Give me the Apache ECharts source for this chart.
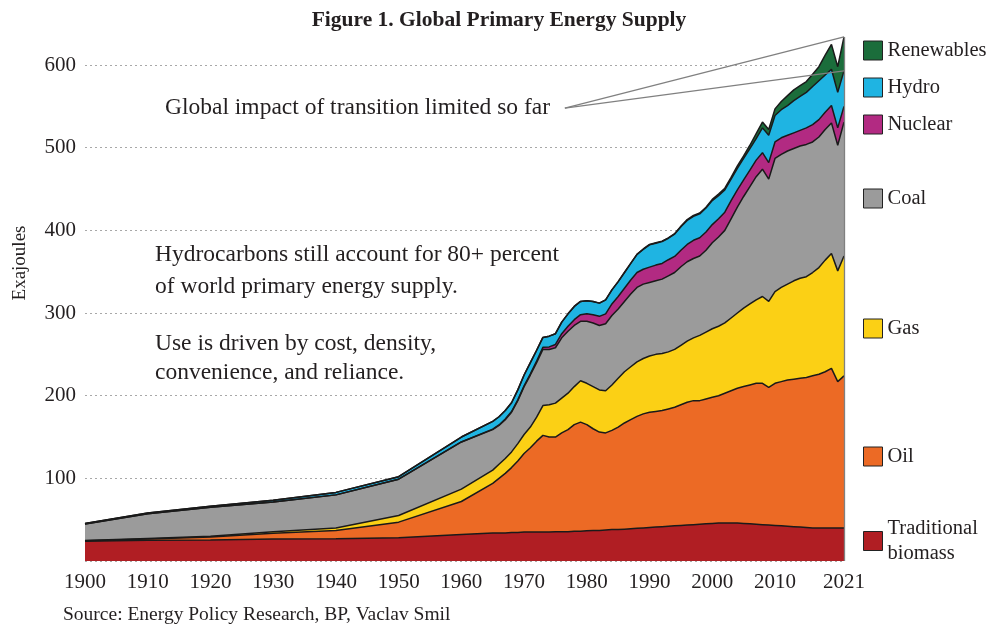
<!DOCTYPE html>
<html>
<head>
<meta charset="utf-8">
<script src="https://cdn.jsdelivr.net/npm/echarts@6/dist/echarts.min.js"></script>
<style>
  html, body { margin: 0; padding: 0; background: #fff; }
  #chart { width: 990px; height: 627px; }
</style>
</head>
<body>
<div id="chart"></div>
<script>
// years: decades up to 1960, then annual
var years = [1900, 1910, 1920, 1930, 1940, 1950, 1960,
  1965, 1966, 1967, 1968, 1969, 1970, 1971, 1972, 1973, 1974,
  1975, 1976, 1977, 1978, 1979, 1980, 1981, 1982, 1983, 1984,
  1985, 1986, 1987, 1988, 1989, 1990, 1991, 1992, 1993, 1994,
  1995, 1996, 1997, 1998, 1999, 2000, 2001, 2002, 2003, 2004,
  2005, 2006, 2007, 2008, 2009, 2010, 2011, 2012, 2013, 2014,
  2015, 2016, 2017, 2018, 2019, 2020, 2021];

// exajoules
var biomass = [24, 25, 25.5, 26.5, 27, 28, 32,
  34, 34, 34, 34.5, 34.5, 35, 35, 35, 35, 35,
  35.5, 35.5, 35.5, 36, 36, 36.5, 37, 37, 37.5, 38,
  38, 38.5, 39, 39.5, 40, 40.5, 41, 41.5, 42, 42.5,
  43, 43.5, 44, 44.5, 45, 45.5, 46, 46, 46, 46,
  45.5, 45, 44.5, 44, 43.5, 43, 42.5, 42, 41.5, 41,
  40.5, 40, 40, 40, 40, 40, 40];

var oil = [0.5, 1.5, 3.5, 7, 10, 19, 40,
  60, 66, 72, 78.5, 86.5, 95, 102, 110, 117, 115,
  114.5, 119.5, 123.5, 129, 132, 128.5, 123, 119, 117.5, 120,
  124, 128.5, 132, 135.5, 138, 139.5, 140, 140.5, 142, 143.5,
  146, 148.5, 150, 149.5, 151, 152.5, 154, 157, 160, 163,
  165.5, 168, 170.5, 171, 166.5, 172, 174.5, 177, 178.5, 180,
  181.5, 184, 186, 189, 193, 177, 184];

var gas = [0.3, 0.8, 1, 2, 3, 8, 15,
  16, 17, 18, 19, 21, 23, 25, 29, 36, 39,
  41, 42, 44, 46, 50, 50, 51, 51, 51, 55,
  59, 62, 64, 66, 67, 68, 69, 69, 69, 70,
  72, 74, 76, 79, 81, 83, 84, 85, 88, 91,
  95, 98, 101, 105, 104, 111, 114, 116, 119, 121,
  122, 125, 129, 135, 139, 134, 145];

var coal = [20, 30, 35, 36, 40, 44, 57,
  49, 47, 47, 48, 52, 58, 63, 66, 68, 67,
  67, 73, 75, 74, 72, 75, 77, 78, 81, 84,
  84, 85, 88, 90, 90, 89, 89, 90, 92, 93,
  95, 96, 96, 96, 99, 104, 108, 112, 120, 128,
  135, 142, 149, 154, 148, 161, 161, 161, 160, 160,
  160, 158, 158, 158, 158, 152, 162];

var nuclear = [0, 0, 0, 0, 0, 0, 0,
  0.5, 0.6, 0.7, 0.8, 1, 1, 1.5, 2, 2.5, 3,
  4, 5, 6, 7, 8, 9, 10, 11, 12, 14,
  15, 16, 17, 18, 18, 18.5, 19, 19, 19.5, 19.5,
  20, 21, 22, 22, 22, 22, 22, 22, 22, 21,
  20, 20, 20, 20, 20, 20, 20, 19, 19, 19,
  20, 21, 21, 21, 21, 21, 19];

var hydro = [0.5, 0.8, 1.3, 2, 3, 3, 6,
  9.5, 9.9, 10.3, 10.7, 12, 13, 13.5, 13, 12, 13,
  13, 14, 15, 16, 16, 16, 16, 16, 17, 17,
  18, 19, 20, 22, 24, 27, 26.5, 26.5, 26, 27,
  28.5, 29, 29, 29, 29, 29, 28, 27, 26, 26,
  26, 26, 26, 30, 33, 32, 34, 36, 39, 41,
  43, 46, 47, 45, 44, 43, 43];

var renewables = [0, 0, 0, 0, 0, 0, 0,
  0, 0, 0, 0, 0, 0, 0, 0, 0, 0,
  0, 0, 0, 0, 0, 0, 0, 0, 0, 0,
  0, 0, 0, 0, 0.5, 0.5, 0.5, 0.5, 0.5, 0.5,
  0.5, 1, 1, 1, 1, 1.5, 2, 2, 2, 3,
  3, 4, 6, 7, 7, 8, 10, 12, 13, 13,
  13, 15, 17, 24, 30, 31, 41];

var xLabels = [1900, 1910, 1920, 1930, 1940, 1950, 1960, 1970, 1980, 1990, 2000, 2010, 2021];

var serif = 'Liberation Serif';
var ink = '#231f20';

// bottom to top
var layers = [
  { name: 'Traditional biomass', values: biomass, color: '#b01e23' },
  { name: 'Oil', values: oil, color: '#ec6a25' },
  { name: 'Gas', values: gas, color: '#fbd015' },
  { name: 'Coal', values: coal, color: '#9b9b9b' },
  { name: 'Nuclear', values: nuclear, color: '#b22a82' },
  { name: 'Hydro', values: hydro, color: '#1fb4e2' },
  { name: 'Renewables', values: renewables, color: '#1b6d3b' }
];

// running totals (echarts stacks on x when both axes are value axes,
// so the layers are summed here and drawn top layer first)
var running = years.map(function () { return 0; });
layers.forEach(function (l) {
  l.cum = l.values.map(function (v, i) { running[i] += v; return running[i]; });
});
var last = years.length - 1;
var topAll = layers[6].cum[last];
var topHydro = layers[5].cum[last];

var series = layers.slice().reverse().map(function (l) {
  return {
    name: l.name,
    type: 'line',
    clip: false,
    symbol: 'none',
    data: years.map(function (y, i) { return [y, l.cum[i]]; }),
    lineStyle: { color: '#1a1a1a', width: 1.5 },
    itemStyle: { color: l.color },
    areaStyle: { color: l.color, opacity: 1 }
  };
});

// pointer lines from the note, plus the edge at 2021
series.push({
  name: 'pointer',
  type: 'line',
  clip: false,
  data: [],
  markLine: {
    silent: true,
    symbol: 'none',
    animation: false,
    label: { show: false },
    lineStyle: { color: '#808080', width: 1.3, type: 'solid' },
    data: [
      [{ coord: [1976.5, 548] }, { coord: [2021, topAll] }],
      [{ coord: [1976.5, 548] }, { coord: [2021, topHydro] }],
      [{ coord: [2021, 0] }, { coord: [2021, topAll] }]
    ]
  }
});

// legend spots down the right side
var legendSpots = [
  { name: 'Renewables', top: 38 },
  { name: 'Hydro', top: 75 },
  { name: 'Nuclear', top: 112 },
  { name: 'Coal', top: 186 },
  { name: 'Gas', top: 316 },
  { name: 'Oil', top: 444 },
  { name: 'Traditional biomass', top: 516 }
];
var legends = legendSpots.map(function (s) {
  var layer = layers.filter(function (l) { return l.name === s.name; })[0];
  return {
    left: 863,
    top: s.top,
    padding: 0,
    orient: 'vertical',
    icon: 'rect',
    itemWidth: 19,
    itemHeight: 19,
    selectedMode: false,
    data: [{ name: s.name, itemStyle: { color: layer.color, borderColor: '#222', borderWidth: 1 } }],
    formatter: function (n) { return n === 'Traditional biomass' ? 'Traditional\nbiomass' : n; },
    textStyle: { fontFamily: serif, fontSize: 20.5, color: ink, lineHeight: 25 }
  };
});

var chart = echarts.init(document.getElementById('chart'));
chart.setOption({
  animation: false,
  backgroundColor: '#fff',
  // axis runs to 640 so the 2021 total stays inside; 600 sits at y=65
  grid: { left: 85, right: 146, top: 32, bottom: 66 },
  legend: legends,
  xAxis: {
    type: 'value',
    min: 1900,
    max: 2021,
    axisLine: { show: false },
    axisTick: { show: false },
    splitLine: { show: false },
    axisLabel: {
      customValues: xLabels,
      margin: 11,
      fontFamily: serif,
      fontSize: 21,
      color: ink,
      formatter: function (v) { return String(v); }
    }
  },
  yAxis: {
    type: 'value',
    min: 0,
    max: 640,
    interval: 100,
    axisLine: { show: false },
    axisTick: { show: false },
    axisLabel: {
      margin: 9,
      fontFamily: serif,
      fontSize: 21,
      color: ink,
      formatter: function (v) { return (v === 0 || v % 100 !== 0) ? '' : String(v); }
    },
    splitLine: { showMaxLine: false, lineStyle: { color: '#a8a8a8', type: [2, 3], width: 1 } }
  },
  graphic: [
    { type: 'text', x: 499, y: 20, style: { text: 'Figure 1. Global Primary Energy Supply', fontFamily: serif, fontWeight: 'bold', fontSize: 21.5, fill: ink, align: 'center', verticalAlign: 'middle' } },
    { type: 'text', x: 20, y: 263, rotation: Math.PI / 2, style: { text: 'Exajoules', fontFamily: serif, fontSize: 19, fill: ink, align: 'center', verticalAlign: 'middle' } },
    { type: 'text', x: 165, y: 108, style: { text: 'Global impact of transition limited so far', fontFamily: serif, fontSize: 23.5, fill: ink, verticalAlign: 'middle' } },
    { type: 'text', x: 155, y: 255, style: { text: 'Hydrocarbons still account for 80+ percent', fontFamily: serif, fontSize: 23.5, fill: ink, verticalAlign: 'middle' } },
    { type: 'text', x: 155, y: 287, style: { text: 'of world primary energy supply.', fontFamily: serif, fontSize: 23.5, fill: ink, verticalAlign: 'middle' } },
    { type: 'text', x: 155, y: 344, style: { text: 'Use is driven by cost, density,', fontFamily: serif, fontSize: 23.5, fill: ink, verticalAlign: 'middle' } },
    { type: 'text', x: 155, y: 373, style: { text: 'convenience, and reliance.', fontFamily: serif, fontSize: 23.5, fill: ink, verticalAlign: 'middle' } },
    { type: 'text', x: 63, y: 615, style: { text: 'Source: Energy Policy Research, BP, Vaclav Smil', fontFamily: serif, fontSize: 19.5, fill: ink, verticalAlign: 'middle' } }
  ],
  series: series
});
</script>
</body>
</html>
